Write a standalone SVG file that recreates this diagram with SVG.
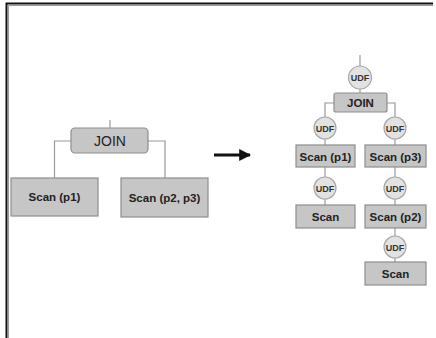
<svg xmlns="http://www.w3.org/2000/svg" width="436" height="338" viewBox="0 0 436 338">
<style>
.box{fill:#c6c6c6;stroke:#8e8e8e;stroke-width:1.2}
.udf{fill:#e2e2e2;stroke:#a8a8a8;stroke-width:1.2}
.ln{fill:none;stroke:#9a9a9a;stroke-width:1.2}
.t{font-family:"Liberation Sans",Arial,sans-serif;fill:#222;text-anchor:middle;dominant-baseline:central}
.b{font-weight:bold;font-size:11.5px}
.u{font-weight:bold;font-size:9px;fill:#333}
</style>
<defs>
<marker id="ah" viewBox="0 0 10 10" refX="9" refY="5" markerWidth="4" markerHeight="4" orient="auto" markerUnits="strokeWidth">
<path d="M0,0 L10,5 L0,10 Z" fill="#111"/>
</marker>
</defs>
<rect width="436" height="338" fill="#fff"/>
<g id="frame">
<path d="M6.5,338 V3.5 H433" fill="none" stroke="#111" stroke-width="2"/>
<path d="M8.5,338 V5.5 H433" fill="none" stroke="#9a9a9a" stroke-width="1"/>
</g>
<g id="connectors">
<path class="ln" d="M110,120 V128"/>
<path class="ln" d="M71,141 H54.5 V178"/>
<path class="ln" d="M148,141 H165 V178"/>
<line x1="214" y1="155" x2="250" y2="155" stroke="#111" stroke-width="3" marker-end="url(#ah)"/>
<path class="ln" d="M360,55 V66"/>
<path class="ln" d="M360,89 V93"/>
<path class="ln" d="M334,103 H325 V117"/>
<path class="ln" d="M387,103 H395 V117"/>
<path class="ln" d="M325,139 V145"/>
<path class="ln" d="M395,139 V145"/>
<path class="ln" d="M325,167 V177"/>
<path class="ln" d="M395,167 V177"/>
<path class="ln" d="M325,199 V205"/>
<path class="ln" d="M395,199 V205"/>
<path class="ln" d="M395,228 V236"/>
<path class="ln" d="M395,258 V262"/>
</g>
<g id="join-left">
<rect class="box" x="71" y="128" width="77" height="25" rx="4"/>
<text class="t" x="110" y="141" font-size="14">JOIN</text>
</g>
<g id="scan-p1-left">
<rect class="box" x="11" y="178" width="87" height="38"/>
<text class="t b" x="54.5" y="197">Scan (p1)</text>
</g>
<g id="scan-p2p3-left">
<rect class="box" x="121" y="178" width="87" height="39"/>
<text class="t b" x="164.5" y="197.5">Scan (p2, p3)</text>
</g>
<g id="udf-top">
<circle class="udf" cx="360" cy="77.5" r="11.5"/>
<text class="t u" x="360" y="78">UDF</text>
</g>
<g id="join-right">
<rect class="box" x="334" y="93" width="53" height="19" rx="2"/>
<text class="t b" x="360.5" y="103">JOIN</text>
</g>
<g id="udf-l1">
<circle class="udf" cx="325" cy="128" r="11"/>
<text class="t u" x="325" y="128.5">UDF</text>
</g>
<g id="udf-r1">
<circle class="udf" cx="395" cy="128" r="11"/>
<text class="t u" x="395" y="128.5">UDF</text>
</g>
<g id="scan-p1-right">
<rect class="box" x="296" y="145" width="59" height="22"/>
<text class="t b" x="325.5" y="156.5">Scan (p1)</text>
</g>
<g id="scan-p3-right">
<rect class="box" x="365" y="145" width="61" height="22"/>
<text class="t b" x="395.5" y="156.5">Scan (p3)</text>
</g>
<g id="udf-l2">
<circle class="udf" cx="325" cy="188" r="11"/>
<text class="t u" x="325" y="188.5">UDF</text>
</g>
<g id="udf-r2">
<circle class="udf" cx="395" cy="188" r="11"/>
<text class="t u" x="395" y="188.5">UDF</text>
</g>
<g id="scan-left-bottom">
<rect class="box" x="296" y="205" width="59" height="23"/>
<text class="t b" x="325.5" y="217">Scan</text>
</g>
<g id="scan-p2-right">
<rect class="box" x="365" y="205" width="61" height="23"/>
<text class="t b" x="395.5" y="217">Scan (p2)</text>
</g>
<g id="udf-r3">
<circle class="udf" cx="395" cy="247" r="11"/>
<text class="t u" x="395" y="247.5">UDF</text>
</g>
<g id="scan-right-bottom">
<rect class="box" x="365" y="262" width="61" height="23"/>
<text class="t b" x="395.5" y="274">Scan</text>
</g>
</svg>
